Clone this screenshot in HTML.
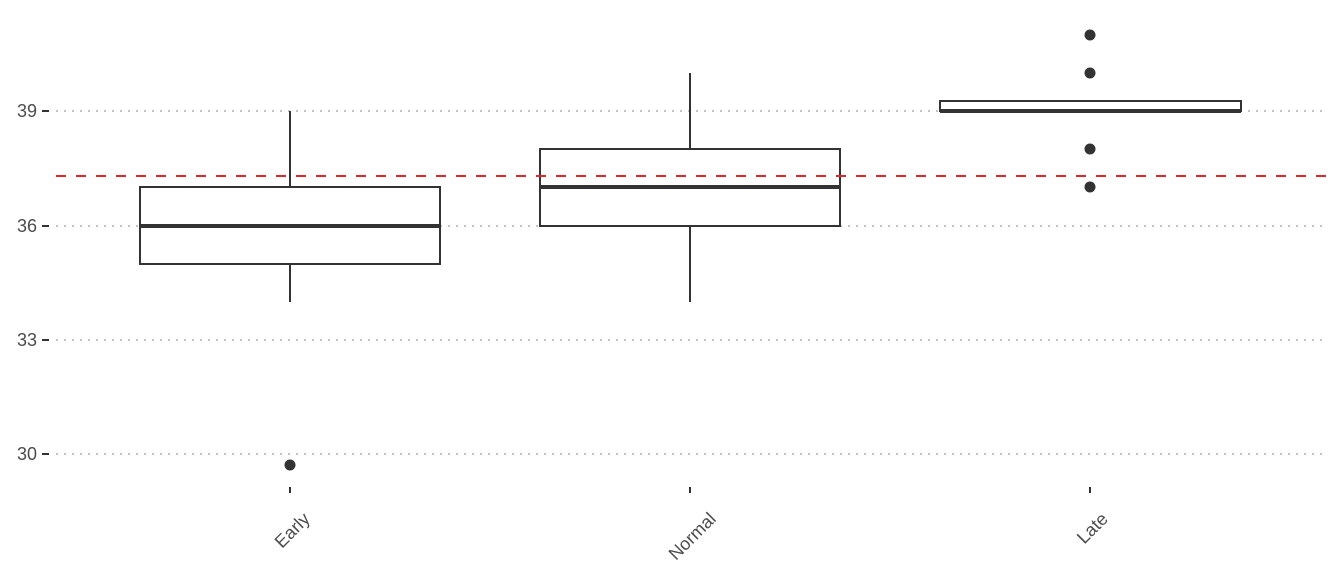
<!DOCTYPE html>
<html><head><style>body{margin:0;background:#fff}svg{display:block}</style></head>
<body>
<svg width="1344" height="576" xmlns="http://www.w3.org/2000/svg" font-family="Liberation Sans, sans-serif">
<g stroke="#c4c4c4" stroke-width="2" stroke-dasharray="2,6">
<line x1="56" y1="111" x2="1326" y2="111"/>
<line x1="56" y1="226" x2="1326" y2="226"/>
<line x1="56" y1="340" x2="1326" y2="340"/>
<line x1="56" y1="454" x2="1326" y2="454"/>
</g>
<g stroke="#333" stroke-width="2">
<line x1="42" y1="111" x2="49" y2="111"/><line x1="42" y1="226" x2="49" y2="226"/>
<line x1="42" y1="340" x2="49" y2="340"/><line x1="42" y1="454" x2="49" y2="454"/>
<line x1="290" y1="487" x2="290" y2="493"/><line x1="690" y1="487" x2="690" y2="493"/><line x1="1090" y1="487" x2="1090" y2="493"/>
</g>
<g font-size="18" fill="#4d4d4d" text-anchor="end">
<text x="37" y="117">39</text><text x="37" y="232">36</text><text x="37" y="346">33</text><text x="37" y="460">30</text>
<text transform="translate(311,520) rotate(-45)">Early</text>
<text transform="translate(717,520) rotate(-45)">Normal</text>
<text transform="translate(1109,520) rotate(-45)">Late</text>
</g>
<g stroke="#333" stroke-width="2" fill="#fff">
<line x1="290" y1="111" x2="290" y2="187"/><line x1="290" y1="264" x2="290" y2="302"/>
<rect x="140" y="187" width="300" height="77"/>
<line x1="690" y1="73" x2="690" y2="149"/><line x1="690" y1="226" x2="690" y2="302"/>
<rect x="540" y="149" width="300" height="77"/>
<rect x="940" y="101" width="301" height="10"/>
</g>
<g stroke="#333" stroke-width="4">
<line x1="140" y1="226" x2="440" y2="226"/>
<line x1="540" y1="187" x2="840" y2="187"/>
<line x1="940" y1="111" x2="1241" y2="111"/>
</g>
<g fill="#333">
<circle cx="290" cy="465" r="5.5"/>
<circle cx="1090" cy="35" r="5.5"/><circle cx="1090" cy="73" r="5.5"/>
<circle cx="1090" cy="149" r="5.5"/><circle cx="1090" cy="187" r="5.5"/>
</g>
<line x1="56" y1="176" x2="1326" y2="176" stroke="#e0262b" stroke-width="2" stroke-dasharray="10,10"/>
</svg>
</body></html>
